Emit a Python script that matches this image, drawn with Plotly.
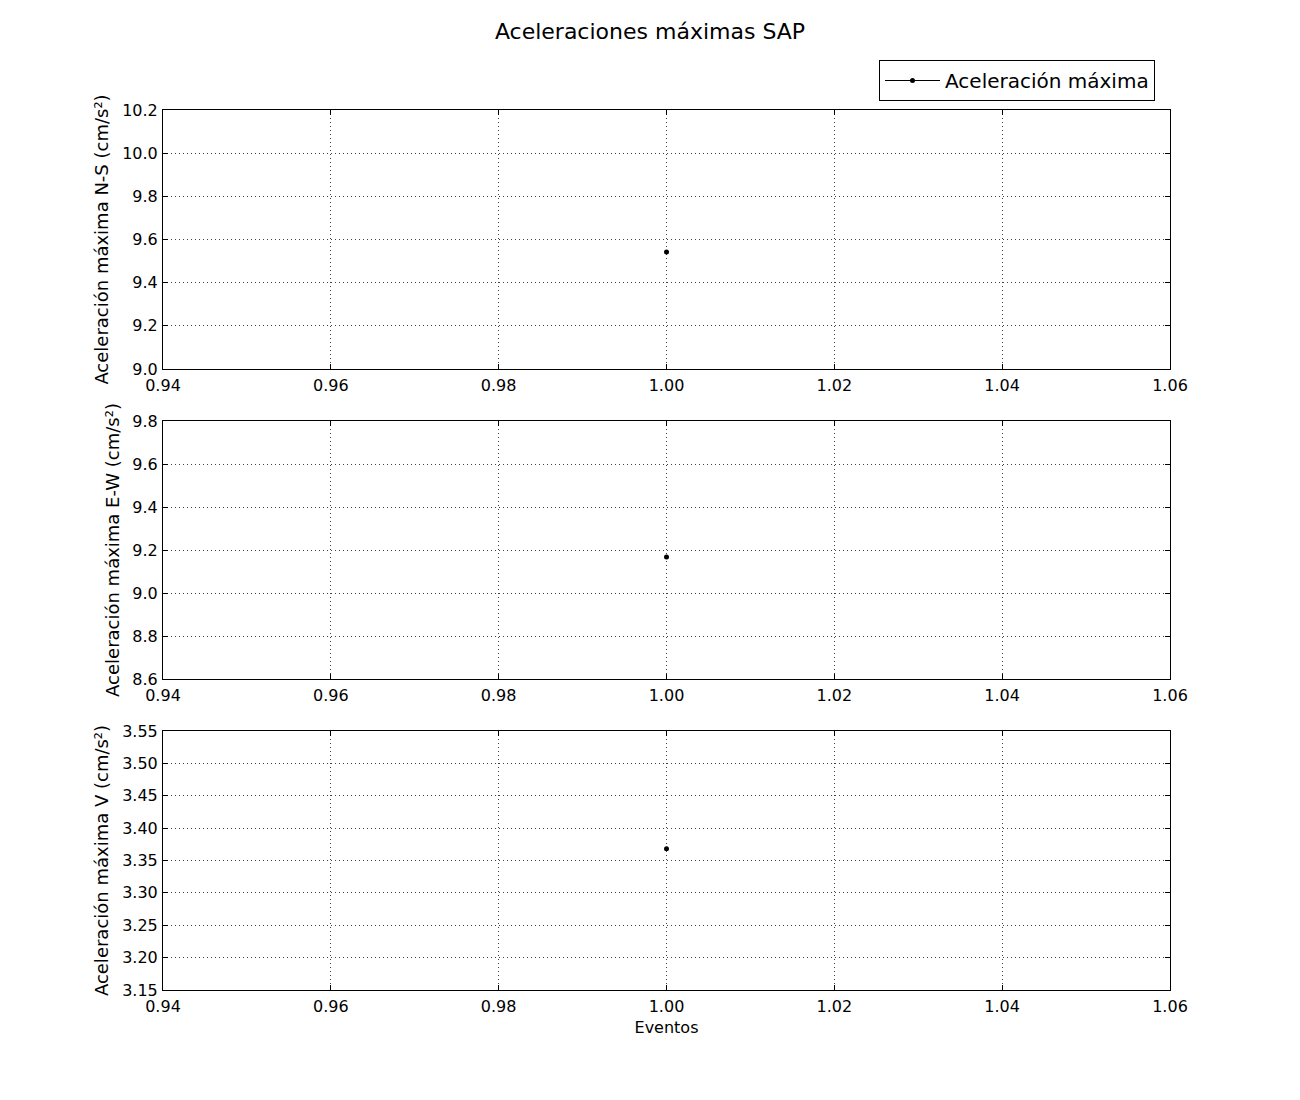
import plotly.graph_objects as go
from plotly.subplots import make_subplots

eventos = [1.0]
acel_ns = [9.542]
acel_ew = [9.167]
acel_v = [3.368]

ylabels = ["Aceleración máxima N-S (cm/s²)",
           "Aceleración máxima E-W (cm/s²)",
           "Aceleración máxima V (cm/s²)"]
yranges = [(9.0, 10.2), (8.6, 9.8), (3.15, 3.55)]
ydticks = [0.2, 0.2, 0.05]
yfmts = [".1f", ".1f", ".2f"]

W, H = 1300, 1100
OFF = 8  # page body margin
x0, x1 = (163 - OFF) / W, (1170 - OFF) / W
rows_px = [(110, 369), (421, 679), (731, 990)]


def py(p):
    return 1 - (p - OFF) / H


fig = make_subplots(rows=3, cols=1)
for i, vals in enumerate([acel_ns, acel_ew, acel_v]):
    fig.add_trace(go.Scatter(
        x=eventos, y=vals, mode="lines+markers", name="Aceleración máxima",
        line=dict(color="black", width=1), marker=dict(color="black", size=5),
        showlegend=(i == 0)), row=i + 1, col=1)

axis_common = dict(showline=True, linecolor="black", linewidth=1, mirror="allticks",
                   ticks="inside", ticklen=5, tickcolor="black", automargin=False,
                   showgrid=True, gridcolor="#444444", griddash="1px,3px", gridwidth=1,
                   zeroline=False, tickfont=dict(size=16, color="black"))

for i in range(3):
    top, bot = rows_px[i]
    n = "" if i == 0 else str(i + 1)
    fig.layout["xaxis" + n].update(
        domain=[x0, x1], range=[0.94, 1.06], dtick=0.02, tickformat=".2f",
        ticklabelstandoff=2, **axis_common)
    fig.layout["yaxis" + n].update(
        domain=[py(bot), py(top)], range=list(yranges[i]), dtick=ydticks[i],
        tickformat=yfmts[i], ticklabelstandoff=1,
        title=dict(text=ylabels[i], font=dict(size=18, color="black"), standoff=8),
        **axis_common)

fig.layout["xaxis3"].title = dict(text="Eventos", font=dict(size=16, color="black"), standoff=6)

fig.update_layout(
    width=W, height=H, autosize=False,
    margin=dict(l=0, r=0, t=0, b=0),
    paper_bgcolor="white", plot_bgcolor="white",
    font=dict(family="DejaVu Sans", color="black"),
    title=dict(text="Aceleraciones máximas SAP", x=(650 - OFF) / W, xanchor="center",
               y=py(31), yanchor="middle", font=dict(size=22, color="black")),
    legend=dict(x=(1155 - OFF) / W, xanchor="right", y=py(60), yanchor="top",
                bordercolor="black", borderwidth=1, bgcolor="white", itemwidth=55,
                font=dict(size=20, color="black")),
)

fig.write_html("out.html")
